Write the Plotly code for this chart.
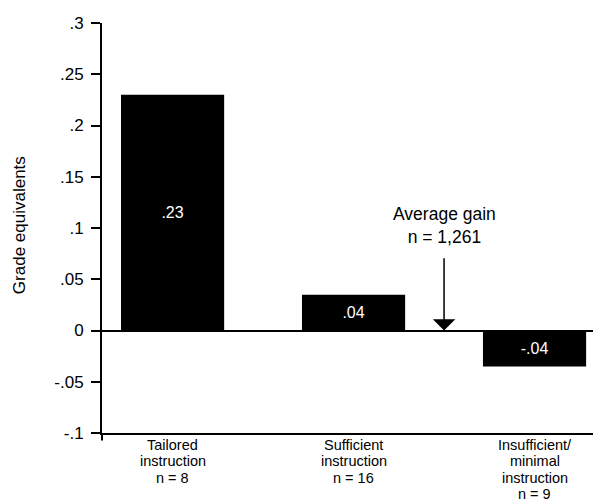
import plotly.graph_objects as go

# Data
category_lines = [
    ["Tailored", "instruction", "n = 8"],
    ["Sufficient", "instruction", "n = 16"],
    ["Insufficient/", "minimal", "instruction", "n = 9"],
]
values = [0.23, 0.035, -0.035]
value_labels = [".23", ".04", "-.04"]
y_tickvals = [-0.1, -0.05, 0, 0.05, 0.1, 0.15, 0.2, 0.25, 0.3]
y_ticktext = ["-.1", "-.05", "0", ".05", ".1", ".15", ".2", ".25", ".3"]
avg_label = "Average gain<br>n = 1,261"
avg_x = 1.5
avg_arrow_top = 0.072

FONT = "Liberation Sans, Arial, sans-serif"
xpos = list(range(len(values)))

fig = go.Figure()
fig.add_trace(go.Bar(
    x=xpos, y=values, width=0.57,
    marker=dict(color="black", line=dict(width=0)),
    text=value_labels, textposition="inside", insidetextanchor="middle",
    textangle=0,
    textfont=dict(color="white", size=16, family=FONT),
    hoverinfo="skip",
))

annotations = []
# Category labels, tight line spacing
for i, lines in enumerate(category_lines):
    for k, line in enumerate(lines):
        annotations.append(dict(
            x=xpos[i], xref="x", y=0, yref="paper",
            text=line, showarrow=False, xanchor="center", yanchor="middle",
            yshift=-12 - k * 16.4, borderpad=0,
            font=dict(size=14.5, color="black", family=FONT),
        ))

# Average gain arrow
annotations.append(dict(
    x=avg_x, y=0, xref="x", yref="y",
    ax=avg_x, ay=avg_arrow_top, axref="x", ayref="y",
    showarrow=True, arrowhead=1, arrowsize=2.5, arrowwidth=1.5,
    arrowcolor="black", text="",
))
annotations.append(dict(
    x=avg_x, y=avg_arrow_top, xref="x", yref="y",
    text=avg_label, showarrow=False, xanchor="center", yanchor="bottom",
    yshift=8,
    font=dict(size=17.5, color="black", family=FONT),
))
# Y axis title
annotations.append(dict(
    x=0, xref="paper", xshift=-83, y=0.507, yref="paper",
    text="Grade equivalents", textangle=-90, showarrow=False,
    xanchor="center", yanchor="middle",
    font=dict(size=17, color="black", family=FONT),
))

fig.update_layout(
    width=595, height=503,
    margin=dict(l=102, r=2, t=23, b=70),
    paper_bgcolor="white", plot_bgcolor="white",
    showlegend=False,
    annotations=annotations,
    font=dict(family=FONT, color="black"),
)
fig.add_shape(type="line", xref="paper", yref="paper", x0=0, x1=0,
              y0=0, y1=-0.018, line=dict(color="black", width=2))

fig.update_xaxes(
    range=[-0.39, 2.323], showticklabels=False, ticks="",
    showgrid=False, zeroline=False,
    showline=True, linecolor="black", linewidth=2, mirror=False,
)
fig.update_yaxes(
    range=[-0.1, 0.3], tickvals=y_tickvals, ticktext=y_ticktext,
    ticks="outside", ticklen=9, tickwidth=2, tickcolor="black",
    tickfont=dict(size=17, color="black", family=FONT),
    ticklabelstandoff=4,
    showgrid=False, zeroline=True, zerolinecolor="black", zerolinewidth=2,
    showline=True, linecolor="black", linewidth=2,
)

fig.write_html("out.html",
               config={"displayModeBar": False, "staticPlot": True},
               post_script="document.body.style.margin='0';document.body.style.padding='0';")
